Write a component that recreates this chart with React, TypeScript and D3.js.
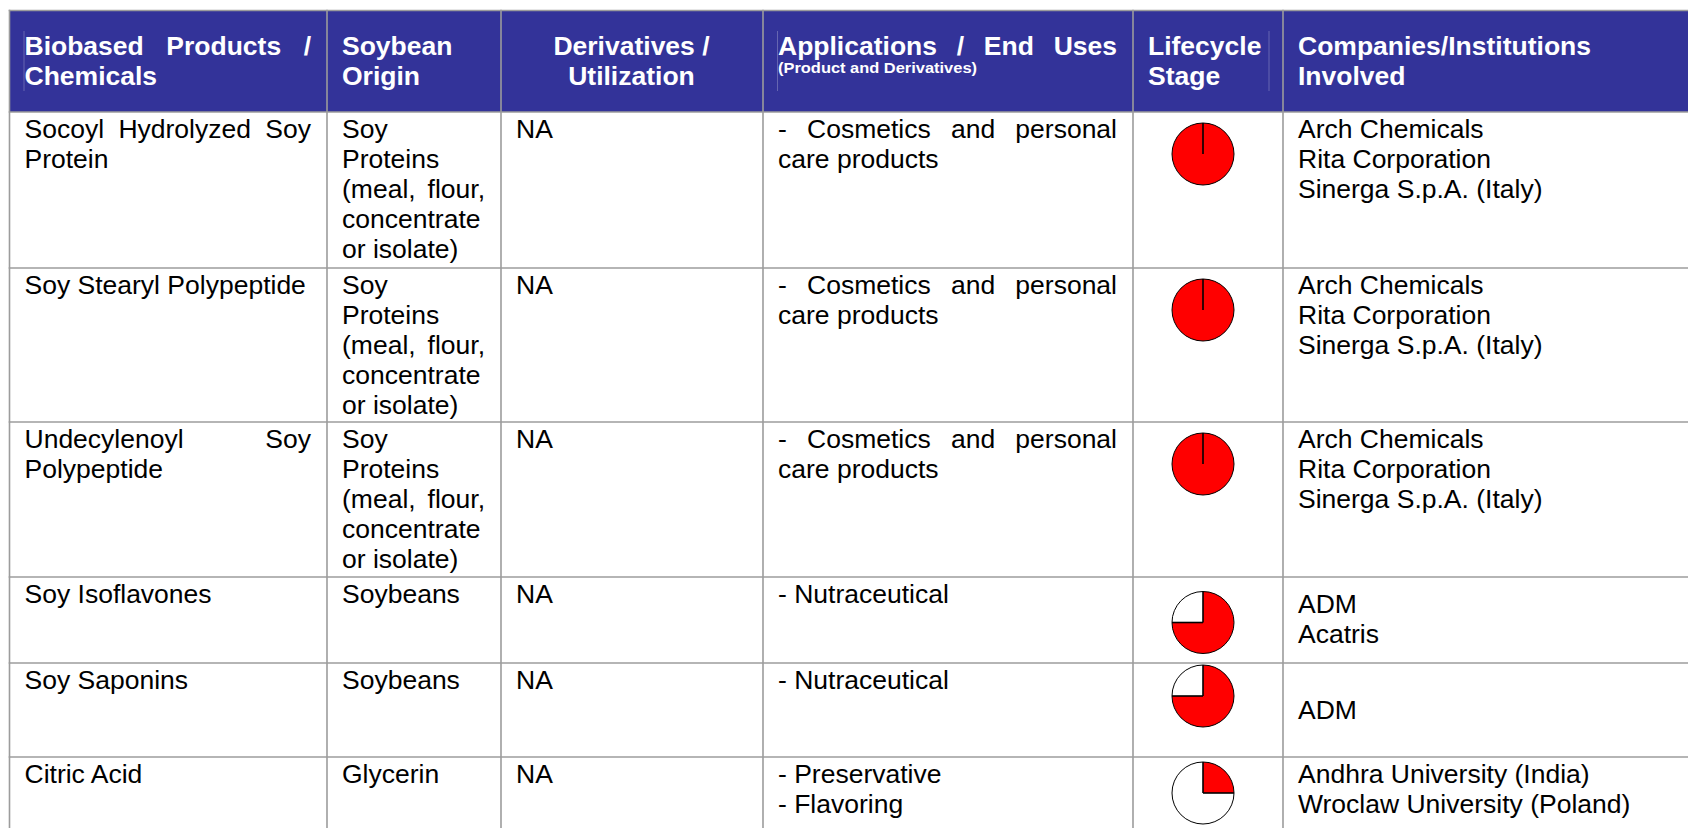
import React from "react";
import * as d3 from "d3";

// ---------- DATA ----------
const headerLines: string[][] = [
  ["Biobased Products /", "Chemicals"],
  ["Soybean", "Origin"],
  ["Derivatives /", "Utilization"],
  ["Applications / End Uses"],
  ["Lifecycle", "Stage"],
  ["Companies/Institutions", "Involved"],
];
const headerNote = "(Product and Derivatives)";

const products: string[][] = [
  ["Socoyl Hydrolyzed Soy", "Protein"],
  ["Soy Stearyl Polypeptide"],
  ["Undecylenoyl Soy", "Polypeptide"],
  ["Soy Isoflavones"],
  ["Soy Saponins"],
  ["Citric Acid"],
];
const proteinOrigin = ["Soy", "Proteins", "(meal, flour,", "concentrate", "or isolate)"];
const origins: string[][] = [
  proteinOrigin,
  proteinOrigin,
  proteinOrigin,
  ["Soybeans"],
  ["Soybeans"],
  ["Glycerin"],
];
const derivatives: string[] = ["NA", "NA", "NA", "NA", "NA", "NA"];
const cosmetics = ["- Cosmetics and personal", "care products"];
const applications: string[][] = [
  cosmetics,
  cosmetics,
  cosmetics,
  ["- Nutraceutical"],
  ["- Nutraceutical"],
  ["- Preservative", "- Flavoring"],
];
const lifecycle: number[] = [1, 1, 1, 0.75, 0.75, 0.25];
const archGroup = ["Arch Chemicals", "Rita Corporation", "Sinerga S.p.A. (Italy)"];
const companies: string[][] = [
  archGroup,
  archGroup,
  archGroup,
  ["ADM", "Acatris"],
  ["", "ADM"],
  ["Andhra University (India)", "Wroclaw University (Poland)"],
];

// ---------- LAYOUT ----------
const W = 1688;
const H = 828;
const colX = [9.5, 327, 501, 763, 1133, 1283, W + 10];
const rowY = [10.5, 112, 268, 422, 577, 663, 757, H + 10];
const padL = 15;
const padR = 16;
const lineH = 30;
const bodyBase = 25.8;
const FONT = "'Liberation Sans', Arial, Helvetica, sans-serif";
const FS = 26.5;
const pieDy = [42, 42, 42, 45.5, 33, 36];
const companyDy = [0, 0, 0, 10.5, 0, 0];
const pieR = 31;
const pieCx = 1203;

const HEADER_BG = "#333399";
const GRID = "#9c9c9c";
const RED = "#ff0000";

const ctx = typeof document !== "undefined" ? document.createElement("canvas").getContext("2d") : null;
function measure(text: string, font: string) {
  if (!ctx) return text.length * 12;
  ctx.font = font;
  return ctx.measureText(text).width;
}

type Align = "left" | "justify" | "center";

function renderLines(
  lines: string[],
  col: number,
  firstBase: number,
  align: Align,
  opts: { bold?: boolean; fill?: string; size?: number; keyPrefix: string }
) {
  const size = opts.size ?? FS;
  const weight = opts.bold ? "bold" : "normal";
  const font = `${weight} ${size}px ${FONT}`;
  const left = colX[col] + padL;
  const right = colX[col + 1] - padR;
  const out: React.ReactNode[] = [];
  lines.forEach((line, i) => {
    const y = firstBase + i * lineH;
    // a line ends its paragraph if it is the last one or the next one starts a new bullet
    const next = lines[i + 1];
    const endsParagraph = next === undefined || /^-\s/.test(next);
    const words = line.split(/\s+/).filter((w) => w.length);
    const common = {
      fontFamily: FONT,
      fontSize: size,
      fontWeight: weight,
      fill: opts.fill ?? "#000",
    };
    if (align === "justify" && !endsParagraph && words.length > 1) {
      const widths = words.map((w) => measure(w, font));
      const total = d3.sum(widths);
      const gap = (right - left - total) / (words.length - 1);
      let x = left;
      words.forEach((w, j) => {
        out.push(
          <text key={`${opts.keyPrefix}-${i}-${j}`} x={x} y={y} {...common}>
            {w}
          </text>
        );
        x += widths[j] + gap;
      });
    } else if (align === "center") {
      out.push(
        <text key={`${opts.keyPrefix}-${i}`} x={(left + right) / 2} y={y} textAnchor="middle" {...common}>
          {line}
        </text>
      );
    } else {
      out.push(
        <text key={`${opts.keyPrefix}-${i}`} x={left} y={y} {...common}>
          {line}
        </text>
      );
    }
  });
  return out;
}

const angle = d3.scaleLinear().domain([0, 1]).range([0, 2 * Math.PI]);
const arcGen = d3.arc<d3.PieArcDatum<number>>().innerRadius(0).outerRadius(pieR);
const pieGen = d3
  .pie<number>()
  .sort(null)
  .value((d) => d)
  .startAngle(0)
  .endAngle(2 * Math.PI);

function Pie({ value, cx, cy }: { value: number; cx: number; cy: number }) {
  const slices = pieGen([value, 1 - value]);
  const a0 = angle(0);
  const a1 = angle(value);
  const pt = (a: number) => [Math.sin(a) * pieR, -Math.cos(a) * pieR];
  const [x0, y0] = pt(a0);
  const [x1, y1] = pt(a1);
  return (
    <g transform={`translate(${cx},${cy})`}>
      <circle r={pieR} fill="#fff" stroke="none" />
      {value > 0 && <path d={arcGen(slices[0]) || ""} fill={RED} stroke="none" />}
      <circle r={pieR} fill="none" stroke="#000" strokeWidth={1} />
      <line x1={0} y1={0} x2={x0} y2={y0} stroke="#000" strokeWidth={1.6} />
      {value < 1 && <line x1={0} y1={0} x2={x1} y2={y1} stroke="#000" strokeWidth={1.6} />}
    </g>
  );
}

export default function App() {
  const headerBase = 55;
  const nodes: React.ReactNode[] = [];

  // header texts
  nodes.push(...renderLines(headerLines[0], 0, headerBase, "justify", { bold: true, fill: "#fff", keyPrefix: "h0" }));
  nodes.push(...renderLines(headerLines[1], 1, headerBase, "left", { bold: true, fill: "#fff", keyPrefix: "h1" }));
  nodes.push(...renderLines(headerLines[2], 2, headerBase, "center", { bold: true, fill: "#fff", keyPrefix: "h2" }));
  nodes.push(
    ...renderLines([...headerLines[3], ""], 3, headerBase, "justify", { bold: true, fill: "#fff", keyPrefix: "h3" })
  );
  nodes.push(
    <text
      key="hnote"
      x={colX[3] + padL}
      y={73}
      fontFamily={FONT}
      fontSize={14}
      fontWeight="bold"
      fill="#fff"
      textLength={199}
      lengthAdjust="spacingAndGlyphs"
    >
      {headerNote}
    </text>
  );
  nodes.push(...renderLines(headerLines[4], 4, headerBase, "left", { bold: true, fill: "#fff", keyPrefix: "h4" }));
  nodes.push(...renderLines(headerLines[5], 5, headerBase, "left", { bold: true, fill: "#fff", keyPrefix: "h5" }));

  // body rows
  products.forEach((_, r) => {
    const base = rowY[r + 1] + bodyBase;
    nodes.push(...renderLines(products[r], 0, base, "justify", { keyPrefix: `p${r}` }));
    nodes.push(...renderLines(origins[r], 1, base, "justify", { keyPrefix: `o${r}` }));
    nodes.push(...renderLines([derivatives[r]], 2, base, "left", { keyPrefix: `d${r}` }));
    nodes.push(...renderLines(applications[r], 3, base, "justify", { keyPrefix: `a${r}` }));
    nodes.push(...renderLines(companies[r], 5, base + companyDy[r], "left", { keyPrefix: `c${r}` }));
  });

  return (
    <svg
      width={W}
      height={H}
      viewBox={`0 0 ${W} ${H}`}
      style={{ position: "absolute", left: 0, top: 0, background: "#fff" }}
    >
      <rect x={0} y={0} width={W} height={H} fill="#fff" />
      <rect x={colX[0]} y={rowY[0]} width={W - colX[0]} height={rowY[1] - rowY[0]} fill={HEADER_BG} />
      {/* faint artefact lines inside the header */}
      {[24, 777.5, 1269].map((x, i) => (
        <line key={`art${i}`} x1={x} x2={x} y1={31} y2={91} stroke="#7474b8" strokeWidth={0.8} />
      ))}
      {/* grid */}
      {rowY.slice(0, rowY.length - 1).map((y, i) => (
        <line key={`hr${i}`} x1={colX[0] - 0.8} x2={W} y1={y} y2={y} stroke={GRID} strokeWidth={1.6} />
      ))}
      {colX.slice(0, colX.length - 1).map((x, i) => (
        <line key={`vr${i}`} x1={x} x2={x} y1={rowY[0] - 0.8} y2={H} stroke={GRID} strokeWidth={1.6} />
      ))}
      {nodes}
      {lifecycle.map((v, r) => (
        <Pie key={`pie${r}`} value={v} cx={pieCx} cy={rowY[r + 1] + pieDy[r]} />
      ))}
    </svg>
  );
}
